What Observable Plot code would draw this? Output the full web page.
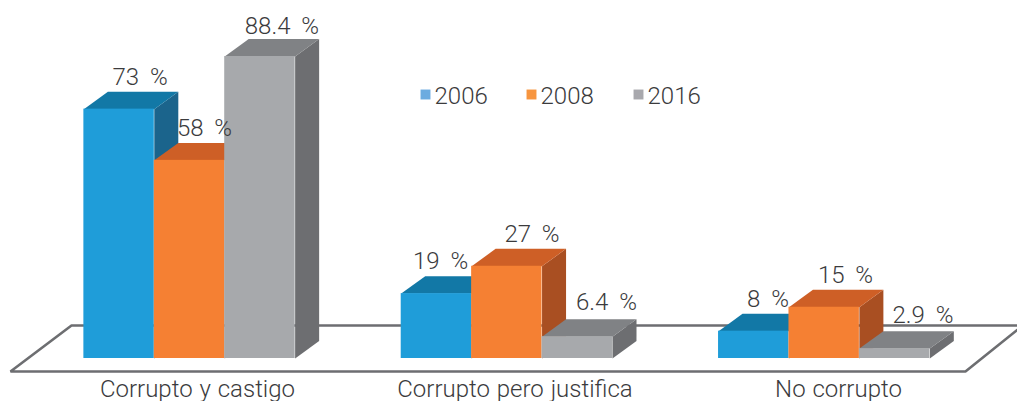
<!DOCTYPE html>
<html><head><meta charset="utf-8">
<style>html,body{margin:0;padding:0;background:#fff}svg{display:block}svg text{font-weight:300;word-spacing:1px}</style>
<script src="https://cdn.jsdelivr.net/npm/d3@7"></script>
<script src="https://cdn.jsdelivr.net/npm/@observablehq/plot@0.6"></script>
</head><body><div id="c"></div>
<script>
const categories = ["Corrupto y castigo", "Corrupto pero justifica", "No corrupto"];
const years = ["2006", "2008", "2016"];
const values2006 = [73, 19, 8];
const values2008 = [58, 27, 15];
const values2016 = [88.4, 6.4, 2.9];
const labels2006 = ["73 %", "19 %", "8 %"];
const labels2008 = ["58 %", "27 %", "15 %"];
const labels2016 = ["88.4 %", "6.4 %", "2.9 %"];
const faceColors = [
  {front:"#1f9dd9", top:"#1278a6", side:"#1b648c", key:"#6cabe0"},
  {front:"#f58033", top:"#ce5f26", side:"#a94f22", key:"#f7953f"},
  {front:"#a7a9ac", top:"#808285", side:"#6d6e71", key:"#a8a8ad"}
];
const series = [values2006, values2008, values2016];
const seriesLabels = [labels2006, labels2008, labels2016];
// label nudges (px) per series / category
const labelDx = [[21,4,14],[15,25,21],[22,29,28]];
const labelDy = [[-7,-7,-7],[-7,-7,-7],[-5,-9,-8]];
const catDx = [8,8,14];

const barW = 0.2218, depthX = 0.0756, depthY = 5.1;
const floorPts = [[2.62,9.66],[-0.3717,9.66],[-0.5638,-3.8],[2.444,-3.8],[2.62,9.3]];
const font = "Roboto, sans-serif";
const fontSize = 24;

const marks = [];
marks.push(Plot.line(floorPts, {x:d=>d[0], y:d=>d[1], stroke:"#6d6e71", strokeWidth:2.6, strokeLinejoin:"miter", curve:"linear"}));
categories.forEach((cat,g)=>{
  series.forEach((vals,s)=>{
    const v = vals[g], x1 = g*0.9995+(s-1.5)*barW, x2 = x1+barW, c = faceColors[s];
    marks.push(Plot.line([[x2,0],[x2+depthX,depthY],[x2+depthX,v+depthY],[x2,v]],
      {x:d=>d[0],y:d=>d[1],fill:c.side,stroke:"none"}));
    marks.push(Plot.line([[x1,v],[x1+depthX,v+depthY],[x2+depthX,v+depthY],[x2,v]],
      {x:d=>d[0],y:d=>d[1],fill:c.top,stroke:"none"}));
    marks.push(Plot.rect([{x1,x2,y1:0,y2:v}],{x1:"x1",x2:"x2",y1:"y1",y2:"y2",fill:c.front}));
  });
});
categories.forEach((cat,g)=>{
  series.forEach((vals,s)=>{
    const x = g+(s-1+0)*barW;
    marks.push(Plot.text([seriesLabels[s][g]],{
      x:()=>x, y:()=>vals[g]+depthY, text:d=>d, dx:labelDx[s][g], dy:labelDy[s][g],
      lineAnchor:"bottom", fontSize, fill:"#3b3b3d", fontFamily:font, stroke:"none"}));
  });
  marks.push(Plot.text([cat],{x:()=>g,y:()=>-12.59,text:d=>d,dx:catDx[g],dy:-5,lineAnchor:"bottom",
    fontSize,fill:"#3b3b3d",fontFamily:font}));
});
years.forEach((yr,i)=>{
  const off = [0,106,213][i];
  marks.push(Plot.dot([yr],{frameAnchor:"top-left",dx:425+off,dy:94,symbol:"square",r:5.6,fill:faceColors[i].key,stroke:"none"}));
  marks.push(Plot.text([yr],{frameAnchor:"top-left",dx:434+off,dy:103,text:d=>d,textAnchor:"start",lineAnchor:"bottom",
    fontSize,fill:"#3b3b3d",fontFamily:font}));
});
const chart = Plot.plot({
  width:1017,height:401,margin:0,
  x:{domain:[-0.5953,2.6079],axis:null},
  y:{domain:[-12.59,104.8],axis:null},
  style:{background:"#fff",overflow:"hidden"},
  marks
});
document.getElementById("c").append(chart);
d3.select(chart).selectAll("text").filter(function(){return this.textContent.includes("%");}).style("word-spacing","5px");
</script></body></html>
